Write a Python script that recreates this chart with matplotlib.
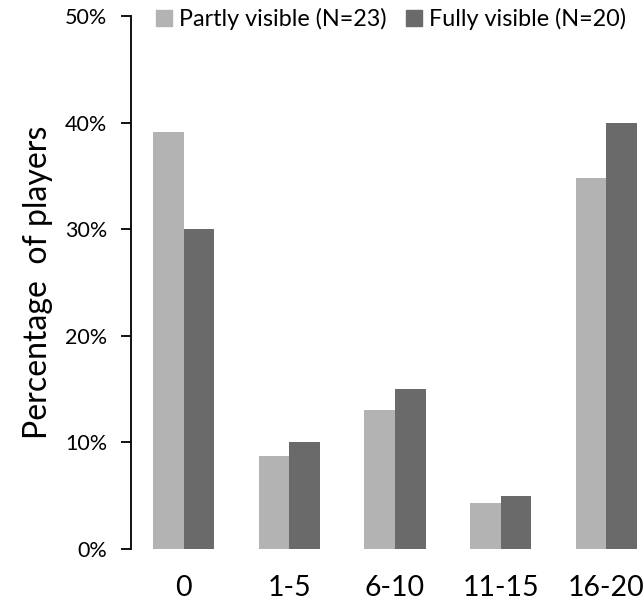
import numpy as np
import matplotlib
matplotlib.use("Agg")
import matplotlib.pyplot as plt
from matplotlib.ticker import PercentFormatter
from matplotlib.patches import Patch

plt.rcParams['font.family'] = ['Lato', 'DejaVu Sans']

# data (percent of players)
categories = ['0', '1-5', '6-10', '11-15', '16-20']
partly = [39.1, 8.7, 13.0, 4.3, 34.8]
fully = [30.0, 10.0, 15.0, 5.0, 40.0]
labels = ['Partly visible (N=23)', 'Fully visible (N=20)']
colors = ['#b3b3b3', '#6a6a6a']

fig = plt.figure(figsize=(6.44, 6.06), dpi=100)
ax = fig.add_axes([0.2034, 0.094, 0.82, 0.8795])

x = np.arange(len(categories))
w = 0.29
ax.bar(x - w / 2, partly, w, color=colors[0])
ax.bar(x + w / 2, fully, w, color=colors[1])

ax.set_xlim(-0.5, 4.5)
ax.set_ylim(0, 50)
ax.set_yticks([0, 10, 20, 30, 40, 50])
ax.yaxis.set_major_formatter(PercentFormatter(decimals=0))
ax.set_xticks(x)
ax.set_xticklabels(categories, fontsize=20.5)
ax.tick_params(axis='x', length=0, pad=19)
ax.tick_params(axis='y', labelsize=15.5, length=7, width=1.3, direction='out', pad=10)

for s in ['top', 'right', 'bottom']:
    ax.spines[s].set_visible(False)
ax.spines['left'].set_linewidth(1.3)

ax.set_ylabel('Percentage  of players', fontsize=23, labelpad=9)

handles = [Patch(color=c) for c in colors]
ax.legend(handles, labels, loc='upper left', bbox_to_anchor=(0.03, 1.033), ncol=2,
          frameon=False, fontsize=16.8, handlelength=0.7, handleheight=0.7,
          handletextpad=0.3, columnspacing=0.8, borderaxespad=0)

fig.savefig('out.png', dpi=100)
